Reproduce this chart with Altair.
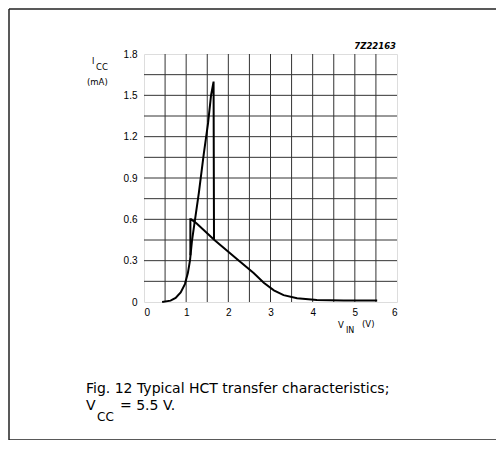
import altair as alt
import pandas as pd

# ---- data ----
up_x = [0.43, 0.63, 0.75, 0.87, 0.97, 1.04, 1.09, 1.14, 1.22, 1.30, 1.42, 1.52, 1.59, 1.65, 1.66]
up_y = [0.0, 0.01, 0.03, 0.07, 0.13, 0.21, 0.30, 0.45, 0.62, 0.79, 1.08, 1.30, 1.50, 1.60, 0.45]

down_x = [5.53, 4.74, 4.10, 3.63, 3.31, 3.08, 2.84, 2.60, 2.21, 1.67, 1.25, 1.12, 1.10, 1.10]
down_y = [0.01, 0.01, 0.015, 0.027, 0.05, 0.085, 0.14, 0.21, 0.31, 0.45, 0.57, 0.60, 0.60, 0.34]

x_labels = [0, 1, 2, 3, 4, 5, 6]
y_labels = [0, 0.3, 0.6, 0.9, 1.2, 1.5, 1.8]
x_grid = [0.5, 1, 1.5, 2, 2.5, 3, 3.5, 4, 4.5, 5, 5.5]
y_grid = [0.15, 0.3, 0.45, 0.6, 0.75, 0.9, 1.05, 1.2, 1.35, 1.5, 1.65]

rows = []
for i, (a, b) in enumerate(zip(up_x, up_y)):
    rows.append({"s": "up", "i": i, "x": a, "y": b})
for i, (a, b) in enumerate(zip(down_x, down_y)):
    rows.append({"s": "down", "i": i, "x": a, "y": b})
df = pd.DataFrame(rows)

FONT = "Liberation Sans"
WIDE = "DejaVu Sans"

xscale = alt.Scale(domain=[0, 6], nice=False, zero=False)
yscale = alt.Scale(domain=[0, 1.8], nice=False, zero=False)

vgrid = alt.Chart(pd.DataFrame({"gx": x_grid})).mark_rule(color="#333", strokeWidth=1).encode(
    x=alt.X("gx:Q", scale=xscale))
hgrid = alt.Chart(pd.DataFrame({"gy": y_grid})).mark_rule(color="#333", strokeWidth=1).encode(
    y=alt.Y("gy:Q", scale=yscale))

curves = alt.Chart(df).mark_line(color="black", strokeWidth=2, strokeJoin="miter").encode(
    x=alt.X("x:Q", scale=xscale,
            axis=alt.Axis(values=x_labels, title=None, grid=False, ticks=False, domain=False,
                          labelPadding=5, labelFontSize=10, labelFont=FONT,
                          labelColor="black", format="d")),
    y=alt.Y("y:Q", scale=yscale,
            axis=alt.Axis(values=y_labels, title=None, grid=False, ticks=False, domain=False,
                          labelExpr="datum.value == 0 ? '0' : format(datum.value, '.1f')",
                          labelPadding=7, labelFontSize=10, labelFont=FONT,
                          labelColor="black")),
    detail="s:N",
    order="i:Q",
)

one = pd.DataFrame({"k": [0]})


def txt(t, x, y, size, align="left", style="normal", weight="normal", font=FONT):
    return alt.Chart(one).mark_text(
        text=t, align=align, baseline="alphabetic", fontSize=size, font=font,
        fontStyle=style, fontWeight=weight, color="black"
    ).encode(x=alt.value(x), y=alt.value(y))


def rule(x, x2, y, y2):
    return alt.Chart(one).mark_rule(color="#222", strokeWidth=1.5).encode(
        x=alt.value(x), x2=alt.value(x2), y=alt.value(y), y2=alt.value(y2))


texts = [
    txt("I", -52, 10, 8, font=WIDE),
    txt("CC", -48, 16, 8.5, font=WIDE),
    txt("(mA)", -57, 31, 8.5, font=WIDE),
    txt("7Z22163", 252, -5, 8.5, align="right", style="italic", weight="bold", font=WIDE),
    txt("V", 194, 274, 8.5, font=WIDE),
    txt("IN", 202, 279, 8, font=WIDE),
    txt("(V)", 218, 273, 8.5, font=WIDE),
    txt("Fig. 12  Typical HCT transfer characteristics;", -58, 339, 14, font=WIDE),
    txt("V", -58, 356, 14, font=WIDE),
    txt("CC", -47, 367, 12, font=WIDE),
    txt("= 5.5 V.", -24, 356, 14, font=WIDE),
]

frame = [
    rule(-135, -135, -45, 386),
    rule(-135, 352, -45, -45),
    rule(-135, 352, 386, 386),
]

chart = alt.layer(vgrid, hgrid, curves, *texts, *frame).properties(
    width=253, height=248,
    autosize=alt.AutoSizeParams(type="none"),
    padding={"left": 136, "top": 46, "right": 99, "bottom": 138},
).configure_view(stroke="black", strokeWidth=1.2).configure(background="white")

chart.save("out.html", embed_options={"renderer": "svg", "actions": False})
